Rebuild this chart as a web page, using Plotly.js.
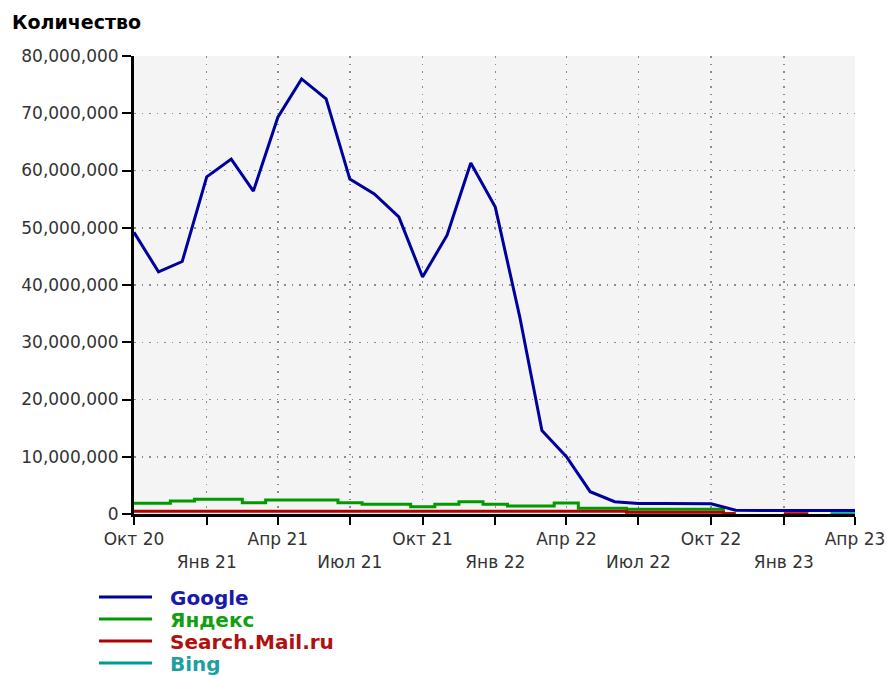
<!DOCTYPE html>
<html>
<head>
<meta charset="utf-8">
<script src="https://cdn.plot.ly/plotly-3.0.1.min.js"></script>
<style>
html,body{margin:0;padding:0;background:#fff;}
#chart{width:887px;height:675px;}
</style>
</head>
<body>
<div id="chart"></div>
<script>
// ---- data ----
var months = [
  '2020-10-01','2020-11-01','2020-12-01',
  '2021-01-01','2021-02-01','2021-03-01','2021-04-01','2021-05-01','2021-06-01',
  '2021-07-01','2021-08-01','2021-09-01','2021-10-01','2021-11-01','2021-12-01',
  '2022-01-01','2022-02-01','2022-03-01','2022-04-01','2022-05-01','2022-06-01',
  '2022-07-01','2022-08-01','2022-09-01','2022-10-01','2022-11-01','2022-12-01',
  '2023-01-01','2023-02-01','2023-03-01','2023-04-01'
];
var google = [49200000, 42300000, 44100000, 58900000, 62000000, 56400000, 69300000, 76000000, 72500000,
  58500000, 55900000, 51900000, 41400000, 48700000, 61300000, 53600000, 34400000, 14600000, 10000000,
  3900000, 2150000, 1850000, 1850000, 1850000, 1800000, 650000, 600000, 600000, 600000, 600000, 600000];
var yandex = [1870000, 1870000, 2270000, 2560000, 2560000, 1970000, 2450000, 2450000, 2450000,
  1970000, 1690000, 1690000, 1280000, 1690000, 2150000, 1690000, 1400000, 1400000, 1900000,
  1020000, 1020000, 850000, 850000, 850000, 850000, 100000, null, null, null, null, null];
var mailru = [470000, 470000, 470000, 470000, 470000, 470000, 470000, 470000, 470000,
  470000, 470000, 470000, 470000, 470000, 470000, 470000, 470000, 470000, 470000,
  470000, 470000, 300000, 300000, 300000, 300000, 50000, null, 50000, 50000, null, null];
var bing = [null, null, null, null, null, null, null, null, null,
  null, null, null, null, null, null, null, null, null, null,
  null, null, null, null, null, null, null, null, null, null, 50000, 50000];

var seriesNames = ['Google', 'Яндекс', 'Search.Mail.ru', 'Bing'];
var lineColors = ['#00009c', '#009a00', '#b00000', '#009999'];
var textColors = ['#1a1aa8', '#10a010', '#b01010', '#1f9f9f'];

var tickDates = ['2020-10-01','2021-01-01','2021-04-01','2021-07-01','2021-10-01','2022-01-01',
  '2022-04-01','2022-07-01','2022-10-01','2023-01-01','2023-04-01'];
var tickLabels = ['Окт 20','Янв 21','Апр 21','Июл 21','Окт 21','Янв 22','Апр 22','Июл 22','Окт 22','Янв 23','Апр 23'];

var yTitle = 'Количество';

// ---- traces ----
var order = [1, 2, 3, 0]; // draw Google on top
var valuesBySeries = [google, yandex, mailru, bing];
var traces = order.map(function (k) {
  return {
    type: 'scatter', mode: 'lines',
    x: months, y: valuesBySeries[k], name: seriesNames[k],
    line: {color: lineColors[k], width: 3, shape: k === 0 ? 'linear' : 'hvh'},
    connectgaps: false,
    showlegend: false, hoverinfo: 'x+y+name'
  };
});

// staggered tick labels (alternate rows)
var tickText = tickLabels.map(function (t, i) { return i % 2 === 1 ? ' <br>' + t : t; });

// manual legend
var L = 134, T = 56, W = 721, H = 458;
function py(px) { return (T + H - px) / H; }
function pxx(px) { return (px - L) / W; }
var legendY = [597, 619, 641, 663];
var shapes = [], annotations = [];
seriesNames.forEach(function (n, i) {
  shapes.push({type: 'line', xref: 'paper', yref: 'paper',
    x0: pxx(99), x1: pxx(152), y0: py(legendY[i]), y1: py(legendY[i]),
    line: {color: lineColors[i], width: 3}});
  annotations.push({xref: 'paper', yref: 'paper', x: pxx(168), y: py(legendY[i] + 1),
    xanchor: 'left', yanchor: 'middle', showarrow: false,
    text: '<b>' + n + '</b>',
    font: {family: 'DejaVu Sans', size: 20, color: textColors[i]}});
});

var axisFont = {family: 'DejaVu Sans', size: 17, color: '#333'};

var layout = {
  width: 887, height: 675,
  margin: {l: L, r: 887 - L - W, t: T, b: 675 - T - H, pad: 0},
  paper_bgcolor: '#ffffff',
  plot_bgcolor: '#f4f4f4',
  title: {text: '<b>' + yTitle + '</b>', xref: 'container', yref: 'container',
    x: 12 / 887, xanchor: 'left', y: 1 - 22 / 675, yanchor: 'middle',
    font: {family: 'DejaVu Sans', size: 19, color: '#000'}},
  xaxis: {
    type: 'date', range: ['2020-10-01', '2023-04-01'],
    tickmode: 'array', tickvals: tickDates, ticktext: tickText,
    tickangle: 0,
    showline: true, linecolor: '#000', linewidth: 3,
    ticks: 'outside', ticklen: 8, tickwidth: 2, tickcolor: '#000',
    showgrid: true, gridcolor: '#8c8c8c', gridwidth: 1.5, griddash: '1.5px,6px',
    zeroline: false, tickfont: axisFont, fixedrange: true
  },
  yaxis: {
    range: [0, 80000000], tickmode: 'linear', tick0: 0, dtick: 10000000,
    tickformat: ',.0f',
    showline: true, linecolor: '#000', linewidth: 3,
    ticks: 'outside', ticklen: 9, tickwidth: 2, tickcolor: '#000',
    showgrid: true, gridcolor: '#8c8c8c', gridwidth: 1.5, griddash: '1.5px,6px',
    zeroline: false, tickfont: axisFont, fixedrange: true
  },
  shapes: shapes,
  annotations: annotations,
  showlegend: false
};

Plotly.newPlot('chart', traces, layout, {displayModeBar: false, staticPlot: true});
</script>
</body>
</html>
